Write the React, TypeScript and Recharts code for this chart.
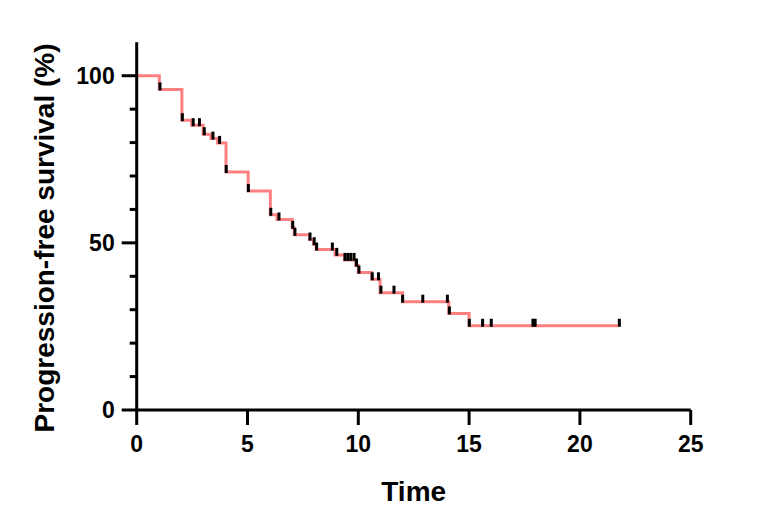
import React from 'react';
import { ComposedChart, Line, Scatter, XAxis, YAxis, Label } from 'recharts';

// Kaplan-Meier step curve (time at which the survival changes, survival after the step)
const stepTimes = [0, 1.02, 2.04, 2.48, 3.0, 3.35, 3.65, 4.03, 5.03, 6.03, 6.33, 7.02, 7.11, 7.8, 7.98, 8.1, 8.95, 9.38, 9.88, 10.0, 10.6, 10.98, 12.0, 14.08, 15.0, 21.75];
const stepSurvival = [100, 95.9, 86.7, 85.2, 82.5, 81.2, 79.9, 71.2, 65.5, 58.4, 57.0, 54.5, 52.4, 51.0, 49.6, 48.0, 46.4, 44.9, 43.2, 41.1, 39.1, 35.1, 32.4, 28.9, 25.2, 25.2];

// Censor marks
const censorTimes = [1.05, 2.06, 2.55, 2.83, 3.05, 3.44, 3.74, 4.04, 5.04, 6.05, 6.42, 7.04, 7.14, 7.82, 8.01, 8.12, 8.83, 9.03, 9.4, 9.53, 9.66, 9.81, 9.92, 10.03, 10.63, 10.91, 11.02, 11.61, 12.0, 12.91, 14.02, 14.11, 15.01, 15.61, 16.0, 17.88, 17.98, 21.78];
const censorSurvival = [95.9, 86.7, 85.2, 85.2, 82.5, 81.2, 79.9, 71.2, 65.5, 58.4, 57.0, 54.5, 52.4, 51.0, 49.6, 48.0, 48.0, 46.4, 44.9, 44.9, 44.9, 44.9, 43.2, 41.1, 39.1, 39.1, 35.1, 35.1, 32.4, 32.4, 32.4, 28.9, 25.2, 25.2, 25.2, 25.2, 25.2, 25.2];

const xTicks = [0, 5, 10, 15, 20, 25];
const yTicks = [0, 10, 20, 30, 40, 50, 60, 70, 80, 90, 100];
const yMajorTicks = [0, 50, 100];

const curveData = stepTimes.map((t, i) => ({ t, s: stepSurvival[i] }));
const censorData = censorTimes.map((t, i) => ({ t, s: censorSurvival[i] }));

const FONT = '"Liberation Sans", Arial, Helvetica, sans-serif';
const Y_TICK_SIZE = 15;
const Y_TICK_MARGIN = 7;

function YTick(props: any) {
  const { x, y, payload } = props;
  const axisX = x + Y_TICK_SIZE + Y_TICK_MARGIN;
  const major = yMajorTicks.includes(payload.value);
  return (
    <g>
      <line x1={axisX - (major ? 15 : 7)} x2={axisX} y1={y} y2={y} stroke="#000" strokeWidth={3} />
      {major && (
        <text x={x} y={y} dy="0.355em" textAnchor="end" fill="#000" fontSize={23} fontWeight="bold" fontFamily={FONT}>
          {payload.value}
        </text>
      )}
    </g>
  );
}

function CensorMark(props: any) {
  const { cx, cy } = props;
  return <rect x={cx - 1.5} y={cy - 7} width={3} height={8} fill="#000" />;
}

export default function App() {
  return (
    <div style={{ width: 771, height: 502 }}>
      <ComposedChart width={771} height={502} margin={{ top: 34.3, right: 88.3, bottom: 0, left: 0 }}>
        <XAxis
          type="number"
          dataKey="t"
          domain={[0, 25]}
          ticks={xTicks}
          interval={0}
          height={100}
          tickSize={15}
          tickMargin={11}
          axisLine={{ stroke: '#000', strokeWidth: 3 }}
          tickLine={{ stroke: '#000', strokeWidth: 3 }}
          tick={{ fill: '#000', fontSize: 23, fontWeight: 'bold', fontFamily: FONT }}
        >
          <Label
            content={(p: any) => {
              const vb = p.viewBox || {};
              return (
                <text x={vb.x + vb.width / 2} y={vb.y + 91} textAnchor="middle" fill="#000" fontSize={28} fontWeight="bold" fontFamily={FONT}>
                  Time
                </text>
              );
            }}
          />
        </XAxis>
        <YAxis
          type="number"
          dataKey="s"
          domain={[0, 110]}
          ticks={yTicks}
          interval={0}
          width={128.7}
          tickSize={Y_TICK_SIZE}
          tickMargin={Y_TICK_MARGIN}
          axisLine={{ stroke: '#000', strokeWidth: 3 }}
          tickLine={false}
          tick={<YTick />}
        >
          <Label
            content={() => (
              <text transform="translate(46,230) rotate(-90)" x={0} y={0} textAnchor="middle" fill="#000" fontSize={28} fontWeight="bold" fontFamily={FONT}>
                Progression-free survival (%)
              </text>
            )}
          />
        </YAxis>
        <Line
          data={curveData}
          dataKey="s"
          type="stepAfter"
          stroke="#FF8080"
          strokeWidth={3}
          dot={false}
          activeDot={false}
          isAnimationActive={false}
        />
        <Scatter data={censorData} dataKey="s" shape={<CensorMark />} isAnimationActive={false} />
      </ComposedChart>
    </div>
  );
}
